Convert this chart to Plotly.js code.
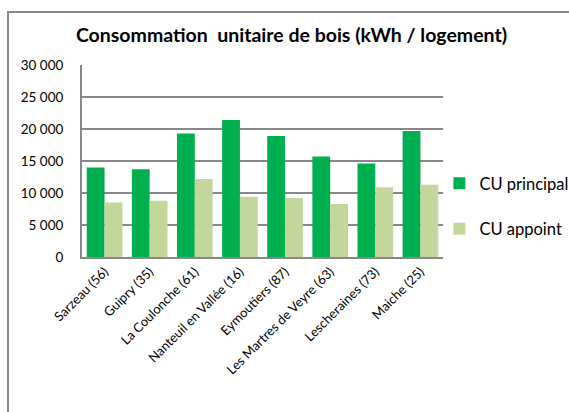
<!DOCTYPE html>
<html><head><meta charset="utf-8">
<script src="https://cdn.plot.ly/plotly-3.0.1.min.js"></script>
<style>html,body{margin:0;padding:0;background:#fff;}#chart{width:569px;height:412px;}</style>
</head><body><div id="chart"></div>
<script>
const categories = ["Sarzeau (56)", "Guipry (35)", "La Coulonche (61)", "Nanteuil en Vallée (16)", "Eymoutiers (87)", "Les Martres de Veyre (63)", "Lescheraines (73)", "Maiche (25)"];
const cuPrincipal = [14000, 13700, 19300, 21400, 18900, 15700, 14600, 19700];
const cuAppoint = [8500, 8800, 12200, 9400, 9200, 8300, 10900, 11300];
const seriesNames = ["CU principal", "CU appoint"];
const yTicks = [0, 5000, 10000, 15000, 20000, 25000, 30000];

const font = "Lato, 'Open Sans', 'Liberation Sans', sans-serif";
const traces = [
  {type:'bar', x:categories, y:cuPrincipal, name:seriesNames[0], legendgroup:'a', marker:{color:'#00B050'}},
  {type:'bar', x:categories, y:cuAppoint, name:seriesNames[1], legendgroup:'b', marker:{color:'#C3D69B'}}
];
const layout = {
  width:569, height:412,
  margin:{l:82, r:126, t:65, b:155, autoexpand:false},
  paper_bgcolor:'#fff', plot_bgcolor:'#fff',
  separators:', ',
  font:{family:font, size:12, color:'#000'},
  title:{text:'<b>Consommation  unitaire de bois (kWh / logement)</b>', font:{family:font, size:19.5, color:'#000'}, x:291.5/569, xref:'container', xanchor:'center', y:1-35/412, yanchor:'middle'},
  barmode:'group', bargap:0.21, bargroupgap:0,
  xaxis:{tickangle:-45, showline:true, linecolor:'#888', linewidth:2, ticks:'', tickfont:{size:13, family:font}, fixedrange:true, automargin:false},
  yaxis:{range:[0,30000], tickvals:yTicks, tickformat:',d', showgrid:true, gridcolor:'#888', gridwidth:2, showline:true, linecolor:'#888', linewidth:2, zeroline:false, ticks:'', tickfont:{size:13.5, family:font}, ticklabelstandoff:14, fixedrange:true, automargin:false},
  legend:{x:0.99, xanchor:'left', y:0.265, yanchor:'middle', traceorder:'grouped', tracegroupgap:21, font:{size:16.5, family:font}, itemwidth:30, bgcolor:'rgba(0,0,0,0)'},
  shapes:[{type:'rect', xref:'paper', yref:'paper', x0:(8-82)/361, x1:1.6, y0:-2, y1:(257-12)/192, line:{color:'#888', width:2}, fillcolor:'rgba(0,0,0,0)', layer:'below'}]
};
Plotly.newPlot('chart', traces, layout, {displayModeBar:false, staticPlot:true});
</script></body></html>
